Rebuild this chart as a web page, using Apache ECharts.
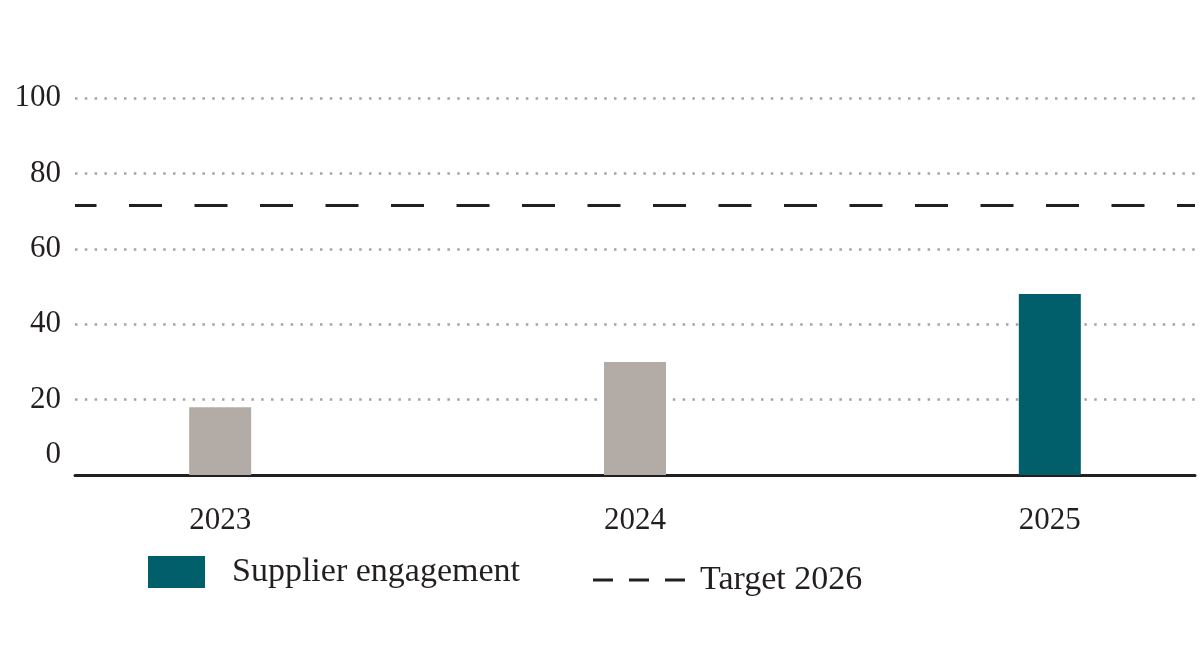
<!DOCTYPE html>
<html>
<head>
<meta charset="utf-8">
<script src="https://cdn.jsdelivr.net/npm/echarts@6/dist/echarts.min.js"></script>
<style>
  html, body { margin: 0; padding: 0; background: #fff; }
  #chart { width: 1200px; height: 657px; }
</style>
</head>
<body>
<div id="chart"></div>
<script>
// data
var years = [2023, 2024, 2025];
var engagement = [18, 30, 48];
var target = 71.5;
var yTicks = [0, 20, 40, 60, 80, 100];

var teal = '#005f6b';
var grey = '#b3aca6';
var ink = '#231f20';
var font = 'Liberation Serif';

window.SupplierChart = function () {
    var chartDom = document.getElementById('chart');
    var myChart = echarts.init(chartDom);
    var option;

    var barData = years.map(function (y, i) {
        var item = { value: [y, engagement[i]] };
        // only the last year is highlighted
        if (i < years.length - 1) item.itemStyle = { color: grey };
        return item;
    });

    option = {
        animation: false,
        backgroundColor: '#fff',
        textStyle: { fontFamily: font, color: ink },
        grid: { left: 75, right: 5, top: 98, bottom: 182 },
        xAxis: {
            type: 'value',
            min: years[0] - 0.35,
            max: years[years.length - 1] + 0.35,
            axisLine: { show: true, lineStyle: { color: ink, width: 3 } },
            axisTick: { show: false },
            splitLine: { show: false },
            axisLabel: {
                customValues: years,
                margin: 30,
                fontSize: 31,
                color: ink,
                fontFamily: font,
                formatter: function (v) { return String(v); }
            }
        },
        yAxis: {
            type: 'value',
            min: yTicks[0],
            max: yTicks[yTicks.length - 1],
            interval: 20,
            axisLine: { show: false },
            axisTick: { show: false },
            splitLine: {
                lineStyle: { color: '#aaa39d', width: 2.5, type: [2.5, 7.3] }
            },
            axisLabel: {
                margin: 14,
                fontSize: 31,
                color: ink,
                fontFamily: font,
                formatter: function (v) {
                    return v === 0 ? '{z|0}' : String(v);
                },
                rich: {
                    z: { fontSize: 31, fontFamily: font, color: ink, padding: [0, 0, 40, 0] }
                }
            }
        },
        legend: [
            {
                data: [{ name: 'Supplier engagement', icon: 'rect' }],
                left: 143,
                top: 550,
                itemWidth: 57,
                itemHeight: 32,
                selectedMode: false,
                textStyle: { fontSize: 34, fontFamily: font, color: ink, padding: [0, 0, 0, 22] }
            },
            {
                data: [{
                    name: 'Target 2026',
                    // three short dashes, like the reference key
                    icon: 'path://M0,0h20v3h-20z M36,0h20v3h-20z M72,0h20v3h-20z',
                    itemStyle: { color: ink }
                }],
                left: 588,
                top: 558,
                itemWidth: 92,
                itemHeight: 3,
                selectedMode: false,
                textStyle: { fontSize: 34, fontFamily: font, color: ink, padding: [0, 0, 0, 10] }
            }
        ],
        series: [
            {
                name: 'Supplier engagement',
                type: 'bar',
                barWidth: 62,
                itemStyle: { color: teal },
                data: barData
            },
            {
                name: 'Target 2026',
                type: 'line',
                symbol: 'none',
                color: ink,
                data: [],
                lineStyle: { color: ink, width: 3, type: [33, 32.5] },
                markLine: {
                    silent: true,
                    symbol: ['none', 'none'],
                    label: { show: false },
                    lineStyle: { color: ink, width: 3, type: [33, 32.5], dashOffset: 11.5 },
                    data: [{ yAxis: target }]
                }
            }
        ]
    };

    option && myChart.setOption(option);
}

window.SupplierChart();
</script>
</body>
</html>
